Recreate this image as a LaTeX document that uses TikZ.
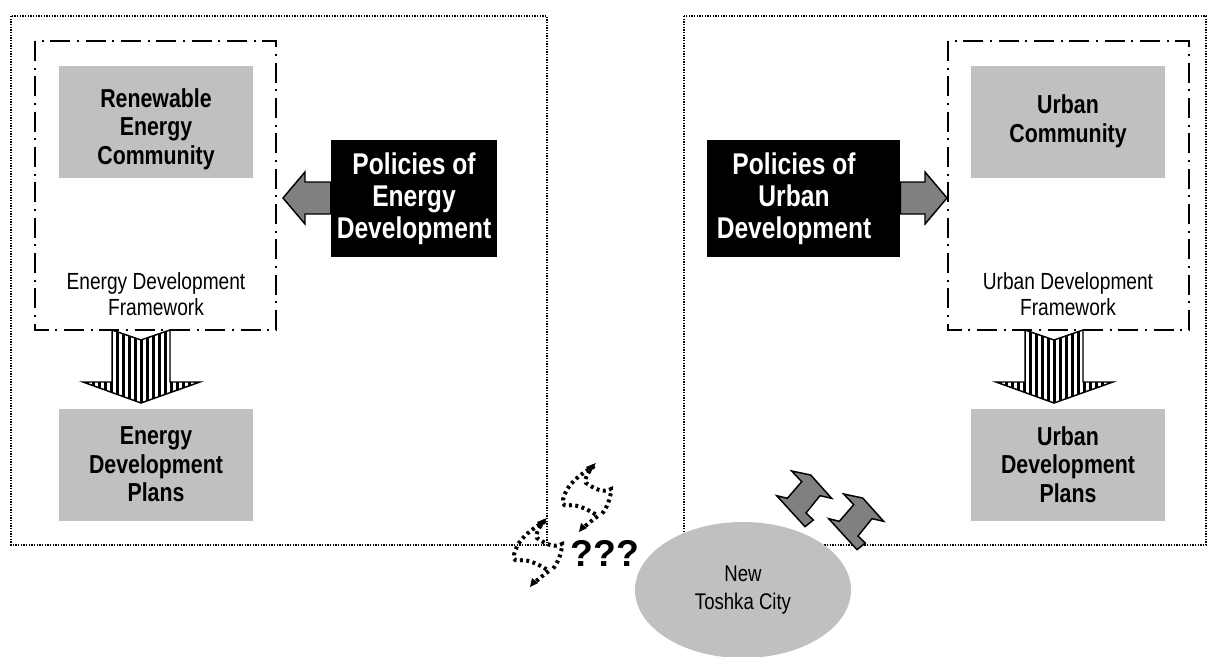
\documentclass[tikz,border=0pt]{standalone}
\usepackage{fontspec}
\setmainfont{Liberation Sans}
\newfontfamily\narrowfont{Liberation Sans}[FakeStretch=0.82]
\usetikzlibrary{shapes.geometric}
\definecolor{boxgray}{HTML}{C0C0C0}
\definecolor{arrowgray}{HTML}{808080}
\tikzset{
  outerbox/.style={draw, line width=1.1pt, dash pattern=on 1pt off 1pt},
  framebox/.style={draw, line width=2.2pt, dash pattern=on 15pt off 5pt on 1.5pt off 5pt},
  graybox/.style={fill=boxgray, inner sep=0pt, align=center, font=\narrowfont\bfseries\fontsize{19.5}{21.5}\selectfont, minimum width=145.5pt, minimum height=84pt},
  boxlabel/.style={inner sep=0pt, align=center, font=\narrowfont\bfseries\fontsize{19.5}{21.5}\selectfont},
  blackbox/.style={fill=black, text=white, inner sep=0pt, align=center, font=\narrowfont\bfseries\fontsize{22.5}{24}\selectfont, minimum height=87.75pt},
  smalltext/.style={inner sep=0pt, align=center, font=\narrowfont\fontsize{17.5}{19}\selectfont},
  blockarrow/.style={draw, fill=arrowgray, line width=1.1pt, line join=miter},
  squiggle/.style={line width=3pt, dash pattern=on 2.2pt off 2.6pt},
  squigtip/.style={fill=black},
}
\begin{document}
\begin{tikzpicture}[x=0.75pt,y=-0.75pt]
\useasboundingbox (0,0) rectangle (1208,657);
% outer dotted areas
\draw[outerbox] (11,16) rectangle (547,545);
\draw[outerbox] (684,16) rectangle (1206,545);
% dash-dot frames
\draw[framebox] (35,41) rectangle (276,330);
\draw[framebox] (948,41) rectangle (1189,330);
% gray boxes
\node[graybox] (ren) at (156,121.5) {};
\node[boxlabel] (rentext) at (156,129) {Renewable\\Energy\\Community};
\node[graybox] (urb) at (1068,121.5) {Urban\\Community};
\node[graybox] (eplan) at (156,464.5) {Energy\\Development\\Plans};
\node[graybox] (uplan) at (1068,464.5) {Urban\\Development\\Plans};
% black boxes
\node[blackbox, minimum width=124.5pt] (epol) at (414,198.5) {Policies of\\Energy\\Development};
\node[blackbox, minimum width=144.75pt] (upol) at (803.5,198.5) {};
\node[inner sep=0pt, align=center, text=white, font=\narrowfont\bfseries\fontsize{22.5}{24}\selectfont] (upoltext) at (794,198.5) {Policies of\\Urban\\Development};
% framework labels
\node[smalltext] (eframe) at (156,294) {Energy Development\\Framework};
\node[smalltext] (uframe) at (1068,294) {Urban Development\\Framework};
% gray block arrows
\draw[blockarrow] (epol.west |- 0,182) -- (305,182) -- (305,172) -- (283,198) -- (305,224) -- (305,214) -- (epol.west |- 0,214) -- cycle;
\draw[blockarrow] (upol.east |- 0,182) -- (925,182) -- (925,172) -- (947,198) -- (925,224) -- (925,214) -- (upol.east |- 0,214) -- cycle;
% striped arrows
\foreach \dx in {0,913}{
\begin{scope}[xshift=\dx*0.75pt]
\path[fill=white] (112,330) -- (141,340) -- (170,330) -- (170,382) -- (200,382) -- (141,403) -- (83,382) -- (112,382) -- cycle;
\begin{scope}
\clip (112,330) -- (141,340) -- (170,330) -- (170,382) -- (200,382) -- (141,403) -- (83,382) -- (112,382) -- cycle;
\foreach \s in {0,...,20}{\fill (80+6*\s,325) rectangle (83+6*\s,410);}
\end{scope}
\draw[line width=1.1pt, line join=miter] (112,330) -- (141,340) -- (170,330) -- (170,382) -- (200,382) -- (141,403) -- (83,382) -- (112,382) -- cycle;
\end{scope}}
% city
\node[ellipse, fill=boxgray, minimum width=162pt, minimum height=102pt, inner sep=0pt, align=center, font=\narrowfont\fontsize{17}{21}\selectfont] (city) at (743,590) {New\\Toshka City};
\node[inner sep=0pt, font=\bfseries\fontsize{28}{30}\selectfont] (q) at (605,553) {???};
% squiggles (dotted S-shaped bands with tips)
\foreach \sx/\sy in {0/0,-49/55}{
\begin{scope}[shift={(\sx,\sy)}]
\draw[squiggle] (594,466) .. controls (580,475) and (566,484) .. (563,500) .. controls (562,506) and (565,506) .. (572,505) .. controls (582,506) and (592,512) .. (598,516) .. controls (594,519) and (590,522) .. (583,528);
\draw[squiggle] (594,466) .. controls (588,472) and (584,478) .. (586,483) .. controls (592,487) and (602,494) .. (611,489) .. controls (611,498) and (607,508) .. (601,515);
\fill[squigtip] (596,463) -- (591,472) -- (586,467) -- cycle;
\fill[squigtip] (579,532) -- (581,523) -- (587,528) -- cycle;
\end{scope}}
% bent double arrows
\foreach \sx/\sy in {0/0,52/23}{
\draw[blockarrow, shift={(\sx,\sy)}] (791.67,471) -- (810.67,475) -- (831.67,498.33) -- (820,495.67) -- (806,513) -- (813.33,520) -- (805,526.67) -- (776.67,495.67) -- (787.33,498.33) -- (801.67,481.67) -- cycle;
}
\end{tikzpicture}
\end{document}
